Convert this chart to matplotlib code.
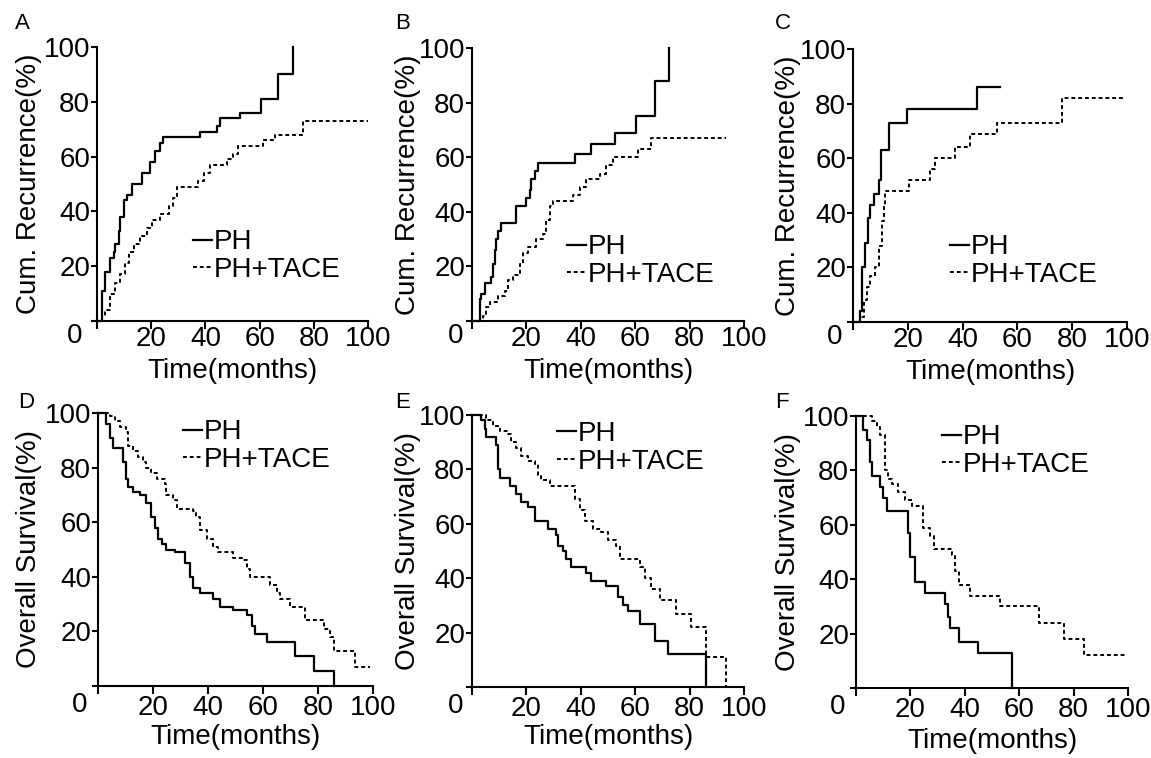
import matplotlib
matplotlib.use("Agg")
import matplotlib.pyplot as plt

plt.rcParams['font.family'] = ['Liberation Sans', 'DejaVu Sans']

# ---------------- data (months, percent) ----------------
A_ph_t = [0, 1.8, 3.1, 4.9, 6.1, 6.7, 8.0, 8.6, 9.8, 11.0, 12.9, 16.6, 19.6, 21.5, 23.3, 24.5, 38.0, 44.2, 45.4, 52.8, 60.7, 66.9, 72.4]
A_ph_y = [0, 11, 18, 23, 25, 28, 33, 38, 44, 46, 50, 54, 58, 62, 65, 67, 69, 71, 74, 76, 81, 90, 100]
A_tace_t = [0, 1.8, 3.1, 4.9, 6.7, 8.6, 10.4, 11.7, 13.5, 16.0, 18.4, 20.2, 23.3, 26.4, 28.2, 29.4, 37.4, 39.3, 41.7, 47.9, 50.3, 52.1, 61.3, 65.6, 76.1, 100]
A_tace_y = [0, 2, 4, 10, 14, 17, 21, 25, 28, 31, 34, 37, 39, 42, 45, 49, 51, 54, 57, 59, 61, 64, 66, 68, 73, 73]

B_ph_t = [0, 2.8, 3.4, 4.7, 7.1, 7.7, 8.3, 8.9, 9.6, 10.8, 16.3, 20.0, 21.2, 21.8, 23.0, 24.3, 37.7, 43.9, 52.5, 60.4, 67.2, 72.4]
B_ph_y = [0, 8, 10, 14, 16, 21, 26, 30, 33, 36, 42, 45, 48, 52, 55, 58, 61, 65, 69, 75, 88, 100]
B_tace_t = [0, 4.0, 5.3, 6.5, 9.6, 12.0, 13.2, 15.1, 17.5, 18.8, 20.6, 23.7, 26.1, 27.3, 28.6, 29.8, 37.1, 39.6, 42.0, 46.9, 49.4, 51.8, 61.0, 65.9, 93.5]
B_tace_y = [0, 2, 5, 7, 9, 11, 15, 17, 21, 25, 27, 30, 32, 37, 42, 44, 46, 49, 52, 54, 57, 60, 63, 67, 67]

C_ph_t = [0, 2.4, 3.3, 4.5, 5.4, 6.3, 7.8, 9.4, 10.2, 13.0, 19.7, 45.3, 53.8]
C_ph_y = [0, 4, 20, 29, 38, 43, 47, 52, 63, 73, 78, 86, 86]
C_tace_t = [0, 2.7, 3.9, 5.1, 6.3, 8.2, 9.4, 10.6, 11.2, 11.8, 20.3, 28.2, 30.0, 37.3, 42.8, 52.6, 76.3, 99.4]
C_tace_y = [0, 2, 8, 13, 17, 20, 28, 37, 43, 48, 52, 56, 60, 64, 69, 73, 82, 82]

D_ph_t = [0, 3.0, 4.3, 5.5, 9.1, 10.1, 10.9, 12.8, 15.2, 17.6, 19.4, 20.7, 21.9, 23.1, 24.9, 27.9, 31.6, 33.4, 34.6, 37.1, 41.9, 44.3, 49.2, 54.1, 55.9, 57.1, 61.4, 71.7, 78.4, 85.7]
D_ph_y = [100, 96, 91, 87, 82, 76, 73, 71, 70, 67, 62, 58, 54, 52, 50, 49, 45, 40, 36, 34, 32, 29, 28, 26, 22, 19, 16, 11, 5.5, 0]
D_tace_t = [0, 4.3, 6.1, 7.9, 10.3, 10.9, 12.8, 14.6, 16.4, 17.6, 19.4, 21.3, 24.3, 24.9, 27.3, 28.6, 34.6, 35.8, 37.1, 39.5, 41.9, 43.7, 49.2, 52.9, 54.1, 55.3, 62.6, 65.0, 66.2, 69.9, 75.3, 82.0, 84.4, 85.7, 93.6, 99.0]
D_tace_y = [100, 99, 97, 95, 93, 88, 86, 84, 82, 80, 78, 76, 74, 70, 68, 65, 64, 62, 57, 54, 51, 49, 47, 46, 43, 40, 37, 34, 32, 29, 24, 21, 18, 13, 7, 7]

E_ph_t = [0, 3.4, 4.7, 5.3, 8.9, 9.6, 10.2, 13.8, 16.3, 18.1, 20.6, 23.0, 27.9, 31.0, 31.6, 33.5, 34.7, 36.5, 42.0, 43.9, 49.4, 53.7, 55.5, 57.4, 61.6, 67.2, 72.1, 86.2]
E_ph_y = [100, 98, 95, 92, 89, 80, 77, 74, 71, 68, 66, 61, 58, 56, 52, 50, 47, 44, 42, 39, 37, 33, 30, 28, 23, 17, 12, 0]
E_tace_t = [0, 5.3, 7.7, 10.2, 13.2, 14.5, 16.3, 18.1, 20.6, 23.0, 24.3, 25.5, 28.6, 37.7, 39.6, 41.4, 44.5, 47.5, 50.0, 53.1, 54.3, 61.6, 63.5, 65.9, 69.0, 75.1, 80.6, 86.2, 93.5]
E_tace_y = [100, 98, 96, 94, 93, 90, 88, 85, 83, 82, 78, 76, 74, 69, 65, 61, 58, 57, 54, 52, 47, 44, 40, 36, 32, 27, 22, 11, 0]

F_ph_t = [0, 2.7, 3.9, 5.2, 5.8, 8.8, 10.1, 11.3, 19.3, 19.9, 21.7, 25.4, 32.8, 34.0, 34.6, 37.7, 45.0, 57.3]
F_ph_y = [100, 95, 91, 83, 78, 74, 70, 65, 57, 48, 39, 35, 31, 26, 22, 17, 13, 0]
F_tace_t = [0, 5.8, 7.6, 8.8, 10.7, 11.9, 13.1, 15.6, 18.0, 20.5, 24.8, 27.2, 28.5, 35.2, 36.4, 37.7, 42.0, 53.0, 67.1, 76.3, 83.7, 99.0]
F_tace_y = [100, 98, 96, 93, 80, 77, 75, 72, 69, 67, 59, 56, 51, 49, 43, 38, 34, 30, 24, 18, 12, 12]

series_labels = ["PH", "PH+TACE"]
panel_letters = ["A", "B", "C", "D", "E", "F"]
ylabels = ["Cum. Recurrence(%)"] * 3 + ["Overall Survival(%)"] * 3
xlabel = "Time(months)"
ticks = [0, 20, 40, 60, 80, 100]
tick_labels = ["", "20", "40", "60", "80", "100"]

panels = [
    (A_ph_t, A_ph_y, A_tace_t, A_tace_y),
    (B_ph_t, B_ph_y, B_tace_t, B_tace_y),
    (C_ph_t, C_ph_y, C_tace_t, C_tace_y),
    (D_ph_t, D_ph_y, D_tace_t, D_tace_y),
    (E_ph_t, E_ph_y, E_tace_t, E_tace_y),
    (F_ph_t, F_ph_y, F_tace_t, F_tace_y),
]

# ---------------- layout ----------------
W, H = 1151, 758
fig = plt.figure(figsize=(W / 100, H / 100), dpi=100)

# axes boxes in pixels: left, right, top, bottom
boxes = [
    (97, 368, 47, 321),
    (472, 744, 48, 321),
    (853, 1127, 49, 322),
    (98, 373, 413, 686),
    (472, 744, 415, 687),
    (856, 1128, 416, 688),
]
ylab_x = [-0.251, -0.235, -0.237, -0.251, -0.235, -0.25]
xlab_y = [-0.182, -0.182, -0.182, -0.187, -0.184, -0.195]
xpad = [-2.4, -2.4, -2.4, 0.5, 0.5, 0.5]
zero_dx = [-15, -9, -11, -11, -9, -11]
zero_dy = [-15, -15, -15, -19, -19, -19]
leg_pos = [(0.354, 0.237), (0.349, 0.22), (0.354, 0.223),
           (0.309, 0.879), (0.3125, 0.879), (0.316, 0.871)]
letter_pos = [(15, 13), (395, 13), (775, 13), (18, 392), (395, 392), (775, 392)]

FS = 20
for i, (box, data) in enumerate(zip(boxes, panels)):
    l, r, t, b = box
    ax = fig.add_axes([l / W, 1 - b / H, (r - l) / W, (b - t) / H])
    ph_t, ph_y, tc_t, tc_y = data
    ax.step(ph_t, ph_y, where='post', color='black', lw=1.6, clip_on=False,
            label=series_labels[0])
    ax.step(tc_t, tc_y, where='post', color='black', lw=1.4, clip_on=False,
            dashes=(2, 1.5), label=series_labels[1])
    ax.set_xlim(0, 100)
    ax.set_ylim(0, 100)
    for s in ['top', 'right']:
        ax.spines[s].set_visible(False)
    for s in ['left', 'bottom']:
        ax.spines[s].set_linewidth(1.5)
    ax.set_xticks(ticks)
    ax.set_xticklabels(tick_labels)
    ax.set_yticks(ticks)
    ax.set_yticklabels(tick_labels)
    ax.tick_params(axis='both', which='major', direction='out',
                   width=1.5, labelsize=FS, colors='black')
    ax.tick_params(axis='x', length=6, pad=xpad[i])
    ax.tick_params(axis='y', length=4.5, pad=0.5)
    ax.annotate("0", xy=(0, 0), xycoords='axes fraction',
                xytext=(zero_dx[i], zero_dy[i]),
                textcoords='offset pixels', ha='right', va='center', fontsize=FS)
    ax.text(ylab_x[i], 0.5, ylabels[i], transform=ax.transAxes, rotation=90,
            ha='center', va='center', fontsize=FS)
    ax.text(0.5, xlab_y[i], xlabel, transform=ax.transAxes,
            ha='center', va='center', fontsize=FS)
    lx, ly = leg_pos[i]
    ax.legend(loc='center left', bbox_to_anchor=(lx, ly), frameon=False,
              fontsize=20, handlelength=0.7, handletextpad=0.05,
              borderpad=0, borderaxespad=0, labelspacing=0.05)
    px, py = letter_pos[i]
    fig.text(px / W, 1 - py / H, panel_letters[i], ha='left', va='top', fontsize=16)

fig.savefig("out.png", dpi=100)
